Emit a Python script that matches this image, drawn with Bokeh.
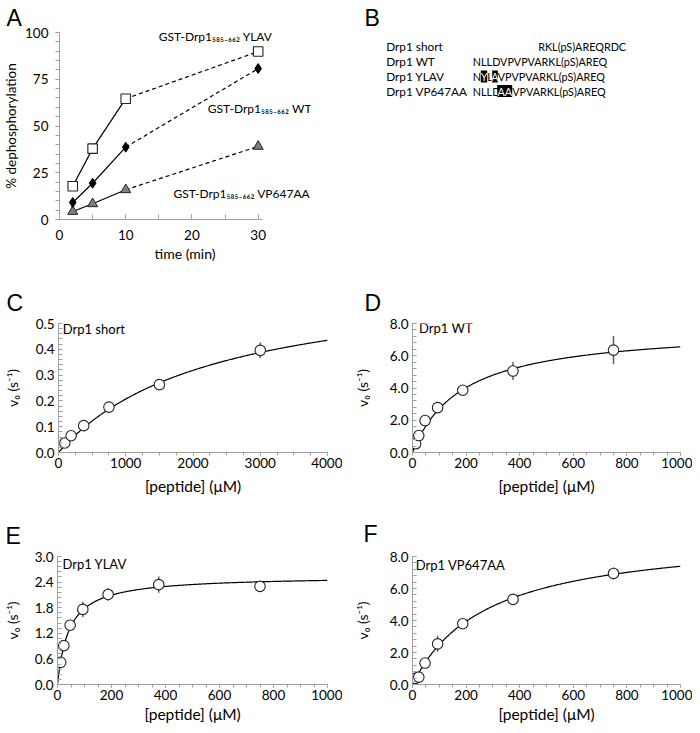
import numpy as np
from bokeh.plotting import figure
from bokeh.layouts import row, column
from bokeh.models import Range1d, NumeralTickFormatter, FixedTicker, Title
from bokeh.embed import file_html
from bokeh.resources import INLINE
from bokeh.core.properties import value

FONT = "Lato"
SUB_FONT = "Lato, 'DejaVu Sans'"
LETTER_FONT = "Liberation Sans"
AXIS_GRAY = "#A0A0A0"

# ---------------- Panel A data ----------------
time_min = [2, 5, 10, 30]
dephos_ylav = [17.8, 37.9, 64.6, 89.8]
dephos_wt = [9.1, 19.4, 38.7, 80.7]
dephos_vp = [4.3, 8.4, 15.9, 39.1]
a_xticks = [0, 10, 20, 30]
a_yticks = [0, 25, 50, 75, 100]
a_labels = ["GST-Drp1\u2085\u2088\u2085\u208B\u2086\u2086\u2082 YLAV",
            "GST-Drp1\u2085\u2088\u2085\u208B\u2086\u2086\u2082 WT",
            "GST-Drp1\u2085\u2088\u2085\u208B\u2086\u2086\u2082 VP647AA"]

# ---------------- Panel B data ----------------
peptide_names = ["Drp1 short", "Drp1 WT", "Drp1 YLAV", "Drp1 VP647AA"]
seq_short = ["RKL(pS)AREQRDC"]
seq_wt = ["NLLDVPVPVARKL(pS)AREQ"]
seq_ylav = ["N", "Y", "L", "A", "VPVPVARKL(pS)AREQ"]
seq_ylav_mut = [False, True, False, True, False]
seq_vp = ["NLLD", "AA", "VPVARKL(pS)AREQ"]
seq_vp_mut = [False, True, False]

# ---------------- Panels C-F data ----------------
conc_short = [93.75, 187.5, 375, 750, 1500, 3000]
v_short = [0.037, 0.065, 0.104, 0.176, 0.263, 0.396]
err_short = [0.004, 0.005, 0.006, 0.008, 0.010, 0.030]

conc_pep = [11.7, 23.4, 46.9, 93.75, 187.5, 375, 750]
v_wt = [0.54, 1.05, 1.98, 2.78, 3.86, 5.05, 6.35]
err_wt = [0.10, 0.10, 0.15, 0.20, 0.20, 0.56, 0.87]
v_ylav = [0.52, 0.91, 1.39, 1.76, 2.11, 2.34, 2.30]
err_ylav = [0.05, 0.08, 0.07, 0.18, 0.15, 0.19, 0.12]
v_vp = [0.38, 0.46, 1.34, 2.54, 3.80, 5.32, 6.94]
err_vp = [0.15, 0.30, 0.15, 0.50, 0.15, 0.15, 0.37]

# Michaelis-Menten fit parameters (Vmax in s^-1, Km in uM)
fit_short = (0.686, 2309)
fit_wt = (7.77, 186)
fit_ylav = (2.545, 43)
fit_vp = (9.45, 279)

V_TITLE = "v\u2080 (s\u207b\u00b9)"
X_TITLE = "[peptide] (\u03bcM)"


def base_fig(width, height, xr, yr, bl, bt, br, bb):
    p = figure(width=width, height=height, x_range=Range1d(*xr), y_range=Range1d(*yr),
               output_backend="svg", toolbar_location=None, title=None,
               min_border_left=bl, min_border_top=bt, min_border_right=br, min_border_bottom=bb)
    p.outline_line_color = None
    p.grid.visible = False
    p.background_fill_color = "white"
    p.border_fill_color = "white"
    return p


def add_letter(p, txt, offset, standoff, valign):
    p.add_layout(Title(text=txt, align="left", offset=offset, standoff=standoff, vertical_align=valign,
                       text_font=LETTER_FONT, text_font_size="23px", text_font_style="normal",
                       text_color="black"), "above")


def style_axes(p, xticks, xminor, yticks, yminor, xfmt, yfmt, xtick_in, xtick_out, ytick_in, ytick_out,
               tick_size, x_standoff, y_standoff):
    p.xaxis.ticker = FixedTicker(ticks=xticks, minor_ticks=xminor)
    p.yaxis.ticker = FixedTicker(ticks=yticks, minor_ticks=yminor)
    p.xaxis.formatter = NumeralTickFormatter(format=xfmt)
    p.yaxis.formatter = NumeralTickFormatter(format=yfmt)
    for ax in (p.xaxis[0], p.yaxis[0]):
        ax.axis_line_color = AXIS_GRAY
        ax.major_tick_line_color = AXIS_GRAY
        ax.minor_tick_line_color = AXIS_GRAY
        ax.major_label_text_font = FONT
        ax.major_label_text_font_size = tick_size
        ax.major_label_text_color = "black"
        ax.axis_label_text_font = SUB_FONT
        ax.axis_label_text_font_style = "normal"
        ax.axis_label_text_color = "black"
    p.xaxis.major_tick_in = xtick_in
    p.xaxis.major_tick_out = xtick_out
    p.xaxis.minor_tick_in = xtick_in
    p.xaxis.minor_tick_out = xtick_out
    p.yaxis.major_tick_in = ytick_in
    p.yaxis.major_tick_out = ytick_out
    p.yaxis.minor_tick_in = ytick_in
    p.yaxis.minor_tick_out = ytick_out
    p.xaxis.major_label_standoff = x_standoff
    p.yaxis.major_label_standoff = y_standoff


# ---------------- Panel A ----------------
pA = base_fig(342, 265, (0, 37.9), (0, 100), 53, 32, 32, 46)
style_axes(pA, a_xticks, list(range(0, 31, 5)), a_yticks, list(range(0, 101, 5)),
           "0", "0", 5, 0, 0, 4, "13.5px", 10, 7)
pA.xaxis.bounds = (0, 30.6)
pA.xaxis.axis_label = "time (min)"
pA.xaxis.axis_label_text_font_size = "14px"
pA.xaxis.axis_label_standoff = 2
pA.yaxis.axis_label = "% dephosphorylation"
pA.yaxis.axis_label_text_font_size = "13.5px"
pA.yaxis.axis_label_standoff = 3

for ys in (dephos_ylav, dephos_wt, dephos_vp):
    pA.line(time_min[:3], ys[:3], line_color="black", line_width=1.2)
    pA.line(time_min[2:], ys[2:], line_color="black", line_width=1.2, line_dash="4 3")
pA.scatter(time_min, dephos_vp, marker="triangle", size=10, fill_color="#7F7F7F", line_color="#222222")
pA.scatter(time_min, dephos_wt, marker="diamond", size=10, fill_color="black", line_color="black")
pA.scatter(time_min, dephos_ylav, marker="square", size=9.5, fill_color="white", line_color="#222222",
           line_width=1.1)
pA.text(x=[15.0, 22.4, 17.2], y=[98.0, 59.5, 13.9], text=a_labels, text_font=value(SUB_FONT),
        text_font_size="12px", text_align="left", text_baseline="middle", text_color="black")
add_letter(pA, "A", -53, 0, "top")

# ---------------- Panel B ----------------
# frame of this text panel is aligned with panel A's frame (page y 32..219)
pB = figure(width=350, height=265, x_range=Range1d(342, 692), y_range=Range1d(219, 32),
            output_backend="svg", toolbar_location=None, title=None,
            x_axis_location=None, y_axis_location=None,
            min_border_left=0, min_border_right=0, min_border_top=32, min_border_bottom=46)
pB.outline_line_color = None
pB.grid.visible = False
row_y = [46, 61, 76, 90.5]
B_SIZE = "11.8px"
S_SIZE = "10.8px"
pB.text(x=[385.7] * 4, y=row_y, text=peptide_names, text_font=value(FONT), text_font_size=B_SIZE,
        text_align="left", text_baseline="middle", text_color="black")
seq_rows = [
    (seq_short, [False], [537.7], [624.0]),
    (seq_wt, [False], [472.3], [603.3]),
    (seq_ylav, seq_ylav_mut, [472.3, 480.3, 486.7, 491.7, 497.3], [480.3, 486.7, 491.7, 497.3, 603.3]),
    (seq_vp, seq_vp_mut, [472.3, 496.7, 511.7], [496.7, 511.7, 603.3]),
]
for (segs, muts, x0s, x1s), yc in zip(seq_rows, row_y):
    for s, m, x0, x1 in zip(segs, muts, x0s, x1s):
        if m:
            pB.quad(left=[x0], right=[x1], top=[yc - 6], bottom=[yc + 6], fill_color="black",
                    line_color=None)
            pB.text(x=[(x0 + x1) / 2], y=[yc], text=[s], text_font=value(FONT), text_font_size=S_SIZE,
                    text_align="center", text_baseline="middle", text_color="white")
        else:
            pB.text(x=[x0], y=[yc], text=[s], text_font=value(FONT), text_font_size=S_SIZE,
                    text_align="left", text_baseline="middle", text_color="black")
add_letter(pB, "B", 22, 0, "top")


# ---------------- Panels C-F ----------------
def kinetics(width, height, xmax, ymax, bl, bt, br, bb, yticks, yminor, yfmt, xticks, xminor,
             conc, v, err, fit, name, lab_dx, lab_dy, title_standoff, ytitle_standoff,
             let, let_offset, let_standoff):
    p = base_fig(width, height, (0, xmax), (0, ymax), bl, bt, br, bb)
    style_axes(p, xticks, xminor, yticks, yminor, "0", yfmt, 0, 3, 4, 0, "13.5px", 2, 4)
    p.xaxis.axis_label = X_TITLE
    p.xaxis.axis_label_text_font_size = "15.5px"
    p.xaxis.axis_label_standoff = title_standoff
    p.yaxis.axis_label = V_TITLE
    p.yaxis.axis_label_text_font_size = "14px"
    p.yaxis.axis_label_standoff = ytitle_standoff
    vmax, km = fit
    xs = np.linspace(0, xmax, 300)
    p.line(xs, vmax * xs / (km + xs), line_color="black", line_width=1.2)
    lo = [a - b for a, b in zip(v, err)]
    hi = [a + b for a, b in zip(v, err)]
    p.segment(x0=conc, x1=conc, y0=lo, y1=hi, line_color="#606060", line_width=1.5)
    p.scatter(conc, v, marker="circle", size=10.5, fill_color="white", line_color="#222222", line_width=1.1)
    fw = width - bl - br
    fh = height - bt - bb
    p.text(x=[lab_dx / fw * xmax], y=[ymax - lab_dy / fh * ymax], text=[name], text_font=value(FONT),
           text_font_size="13px", text_align="left", text_baseline="middle", text_color="black")
    add_letter(p, let, let_offset, let_standoff, "bottom")
    return p


x_ticks_1000 = [0, 200, 400, 600, 800, 1000]
x_minor_1000 = list(range(0, 1001, 50))

pC = kinetics(342, 235, 4000, 0.5, 54, 58, 15, 48,
              [0.0, 0.1, 0.2, 0.3, 0.4, 0.5], [round(i * 0.02, 2) for i in range(26)], "0.0",
              [0, 1000, 2000, 3000, 4000], list(range(0, 4001, 250)),
              conc_short, v_short, err_short, fit_short, "Drp1 short", 4.3, 5, 6, 12,
              "C", -52, 16)
pD = kinetics(350, 235, 1000, 8.0, 70, 58, 12, 48,
              [0, 2, 4, 6, 8], [round(i * 0.4, 1) for i in range(21)], "0.0",
              x_ticks_1000, x_minor_1000,
              conc_pep, v_wt, err_wt, fit_wt, "Drp1 WT", 6.6, 4.4, 6, 16,
              "D", -48, 16)
pE = kinetics(342, 225, 1000, 3.0, 53, 56, 15, 41,
              [0.0, 0.6, 1.2, 1.8, 2.4, 3.0], [round(i * 0.12, 2) for i in range(26)], "0.0",
              x_ticks_1000, x_minor_1000,
              conc_pep, v_ylav, err_ylav, fit_ylav, "Drp1 YLAV", 5, 7.3, 2, 11,
              "E", -52, 16)
pF = kinetics(350, 225, 1000, 8.0, 70, 56, 12, 41,
              [0, 2, 4, 6, 8], [round(i * 0.4, 1) for i in range(21)], "0.0",
              x_ticks_1000, x_minor_1000,
              conc_pep, v_vp, err_vp, fit_vp, "Drp1 VP647AA", 3.3, 8, 2, 16,
              "F", -49, 20)

layout = column(row(pA, pB), row(pC, pD), row(pE, pF))
open("out.html", "w").write(file_html(layout, INLINE))
